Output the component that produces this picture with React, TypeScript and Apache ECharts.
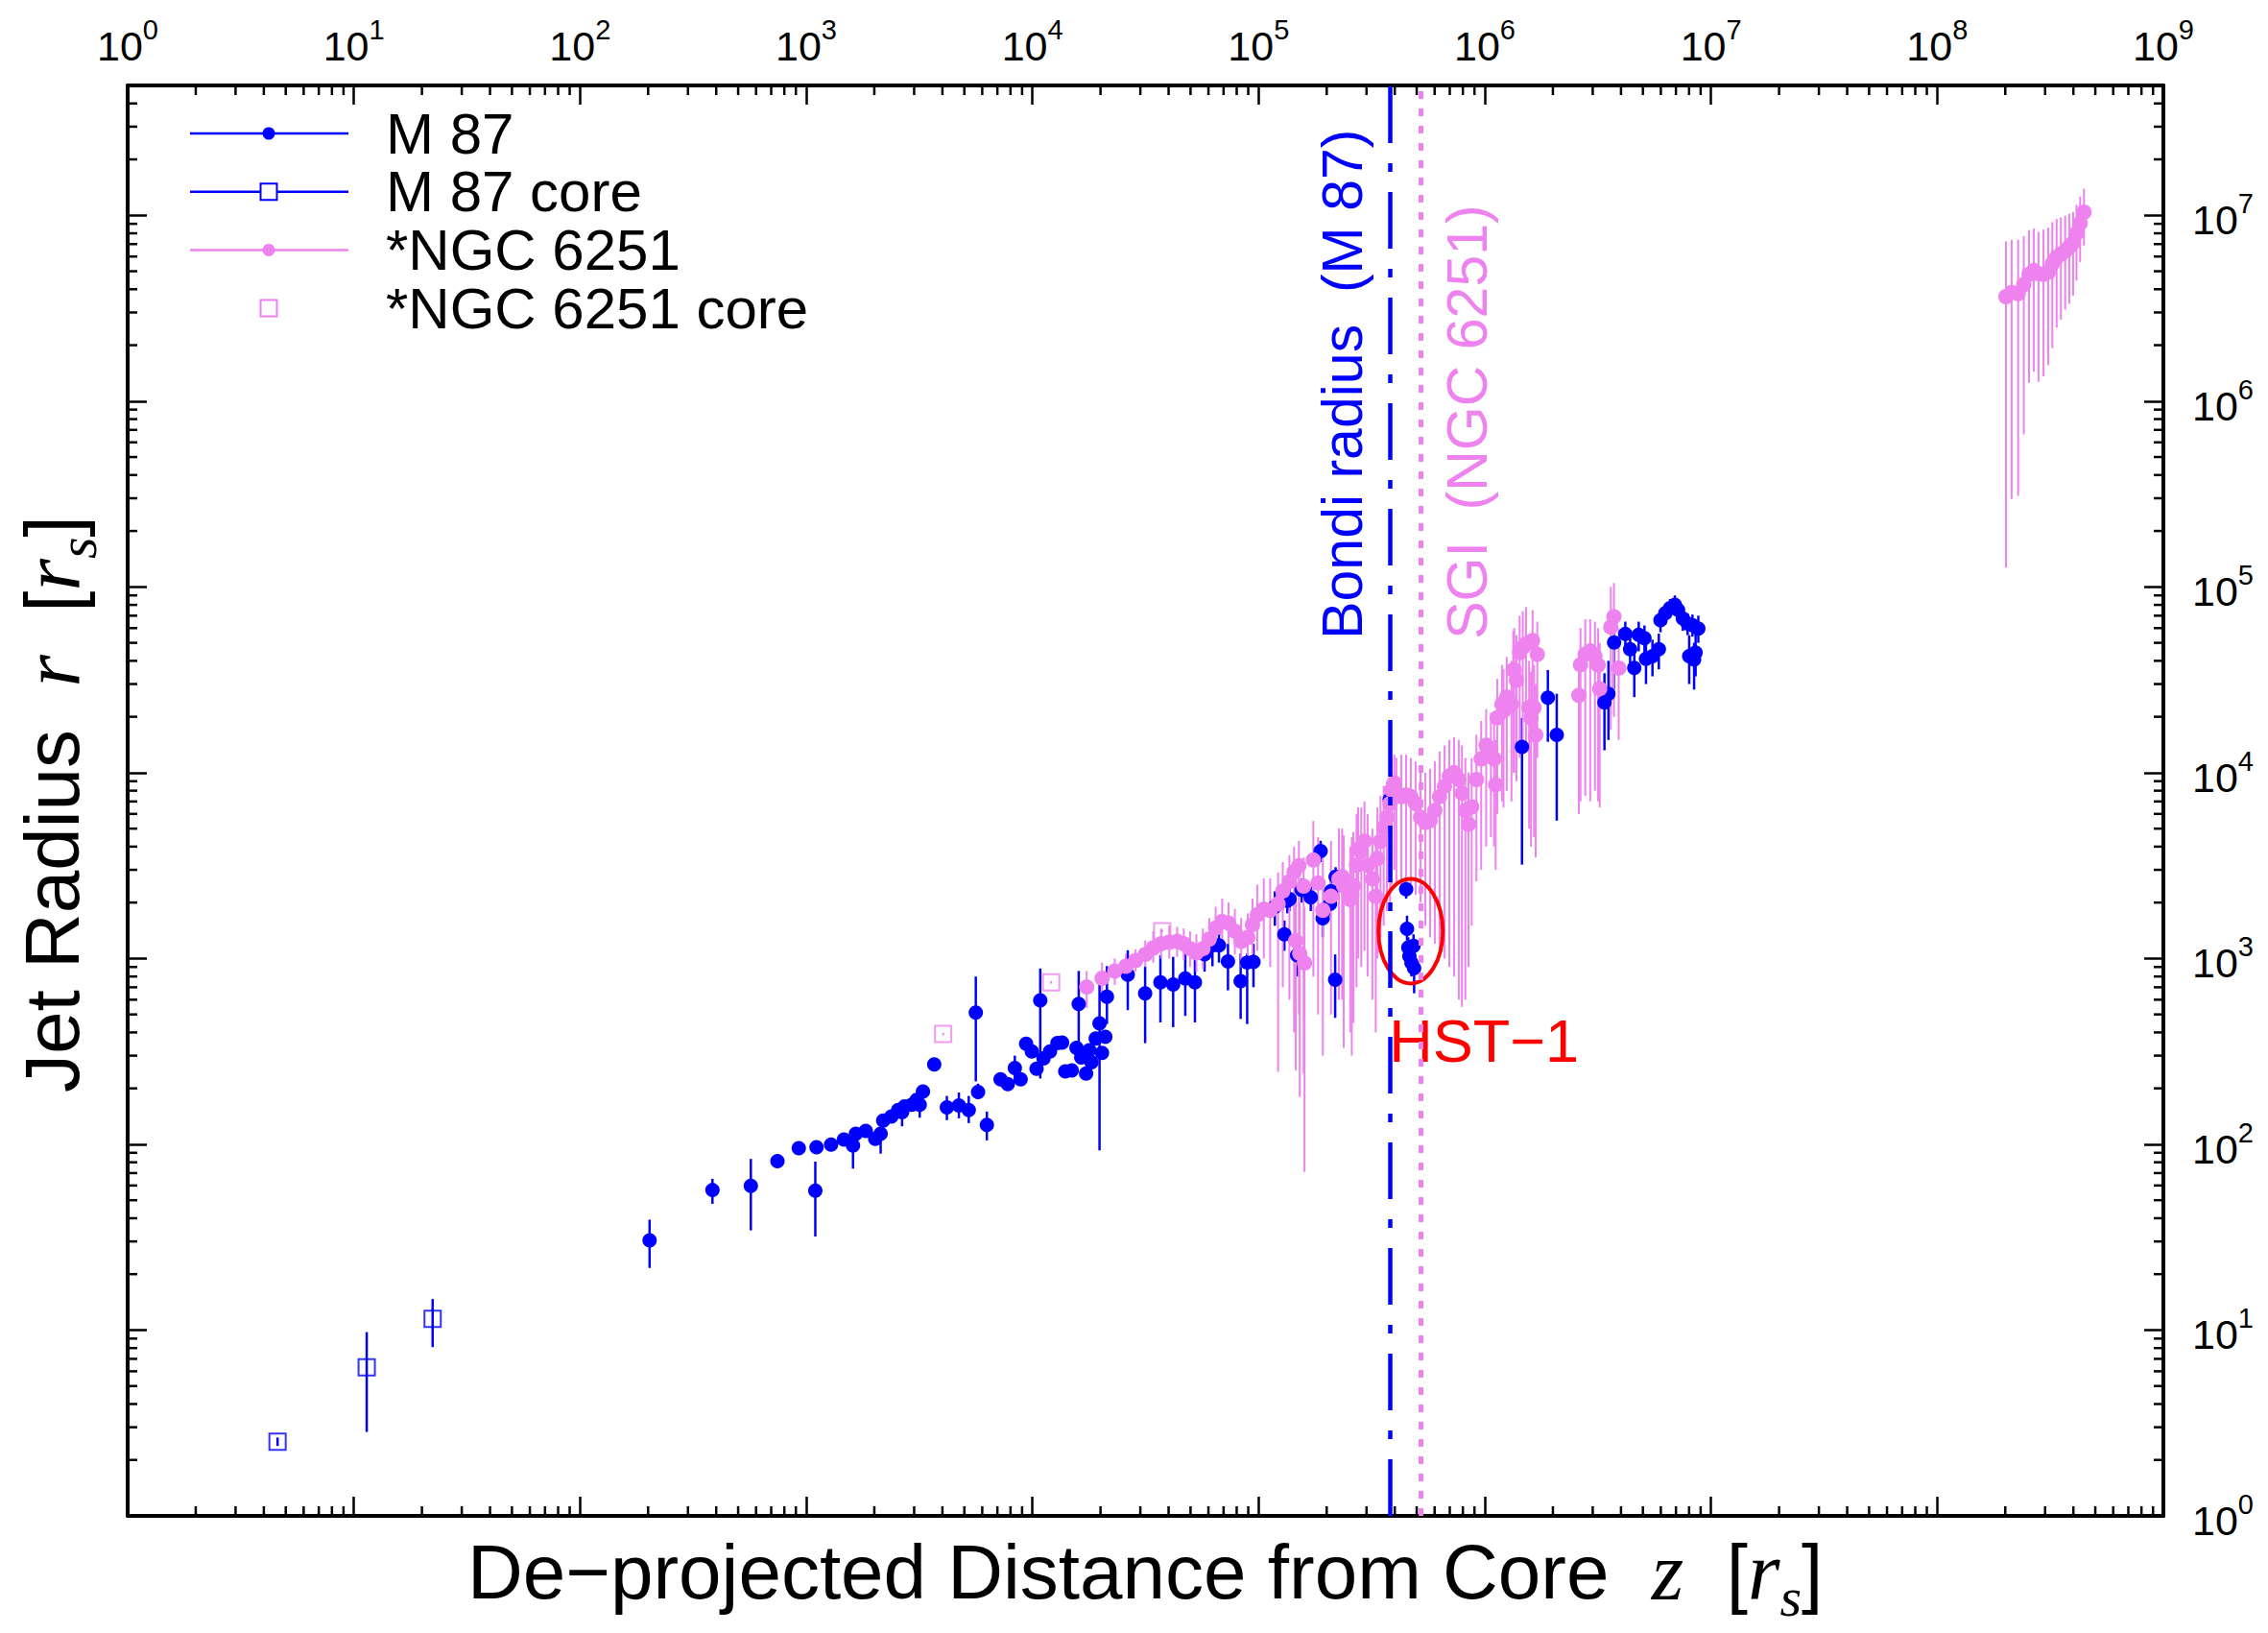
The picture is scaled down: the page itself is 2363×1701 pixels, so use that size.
import React, { useEffect, useRef } from 'react';
import * as echarts from 'echarts';

const SANS = '"Liberation Sans", Arial, Helvetica, sans-serif';
const SERIF = '"Liberation Serif", "Times New Roman", serif';
const BLUE = '#0000ff';
const VIOLET = '#ee82ee';
const RED = '#ff0000';

// Axis ranges
const xMin = 1;
const xMax = 1e9;
const yMin = 1;
const yMax = 5e7;

// M 87 jet: [z, r, rLow, rHigh]
const m87Jet: number[][] = [
  [203, 30.4, 21.6, 39.3], [385, 56.7, 47.8, 65.2], [569, 59.7, 34.4, 83.4], [746, 81.1, 76, 87],
  [927, 95.3, 90, 101], [1097, 56.3, 31.9, 80.7], [1110, 96.5, 91, 102], [1288, 99.6, 94, 106],
  [1468, 106, 100, 112], [1610, 98.5, 74, 104], [1657, 114, 108, 120], [1833, 118, 112, 124],
  [2018, 107, 100, 116], [2133, 114, 89, 120], [2190, 134, 128, 140], [2380, 141, 134, 148],
  [2550, 153, 145, 160], [2653, 149, 125, 173], [2722, 160, 152, 168], [2928, 163, 155, 171],
  [3076, 173, 164, 182], [3175, 163, 139, 170], [3281, 192, 182, 202], [3680, 269, 256, 284],
  [4186, 158, 135, 182], [4730, 162, 138, 190], [5230, 153, 130, 182], [5620, 511, 218, 800],
  [5750, 191, 175, 212], [6290, 127, 105, 150], [7230, 224, 205, 240], [7780, 211, 195, 225],
  [8360, 257, 215, 300], [8870, 224, 210, 240], [9380, 347, 330, 365], [9940, 316, 300, 330],
  [10430, 255, 240, 270], [10830, 596, 226, 883], [11200, 290, 270, 310], [11960, 316, 300, 335],
  [12900, 351, 335, 370], [13530, 353, 335, 370], [13970, 247, 232, 262], [14920, 250, 235, 265],
  [15660, 330, 310, 350], [16020, 570, 324, 857], [16440, 293, 275, 310], [17270, 240, 222, 258],
  [17840, 321, 300, 340], [18240, 276, 258, 295], [19050, 371, 350, 390], [19800, 448, 92.7, 745],
  [20300, 310, 290, 330], [21000, 379, 360, 400], [21350, 623, 444, 910], [26400, 818, 527, 1107],
  [31500, 648, 350, 908], [36800, 745, 453, 1042], [41900, 724, 427, 1020], [47400, 781, 491, 1064],
  [52300, 745, 453, 991], [57700, 1055, 850, 1250], [62500, 1175, 908, 1403], [66800, 1175, 950, 1400],
  [73200, 964, 674, 1199], [83300, 756, 473, 1064], [89000, 951, 444, 1064], [94900, 959, 700, 1200],
  [118000, 1900, 1500, 2300], [130000, 1349, 1100, 1600], [134000, 2046, 1750, 2400], [137000, 2089, 1800, 2400],
  [148000, 1042, 800, 1300], [155000, 2340, 2000, 2700], [170000, 2130, 1800, 2500], [188000, 3784, 3300, 4300],
  [192000, 1644, 1300, 2000], [207000, 1966, 1700, 2300], [209000, 2306, 2000, 2600], [218000, 768, 479, 1052],
  [219000, 2754, 2400, 3100], [380000, 7170, 6500, 7900],
  [449000, 2360, 2100, 2600], [453000, 1445, 1250, 1700], [459000, 1146, 1000, 1300], [464000, 1030, 900, 1200],
  [474000, 946, 800, 1100], [484000, 1169, 1000, 1350], [487000, 887, 650, 1000],
  [1.46e6, 13760, 3200, 19700], [1.9e6, 25300, 14660, 35700], [2.08e6, 15960, 5520, 26600],
  [3.38e6, 23900, 13200, 34300], [3.52e6, 26600, 15000, 40000], [3.73e6, 50200, 28000, 60000],
  [4.18e6, 55800, 45000, 65000], [4.39e6, 46200, 38000, 55000], [4.58e6, 36600, 25500, 48100],
  [4.79e6, 55200, 45000, 65000], [5.08e6, 52900, 44000, 62000], [5.16e6, 41000, 30000, 50000],
  [5.51e6, 42400, 33000, 52000], [5.88e6, 46200, 36000, 56000], [5.98e6, 66300, 57000, 75000],
  [6.28e6, 72100, 63000, 80000], [6.59e6, 76900, 68000, 86000], [6.92e6, 80200, 71000, 90000],
  [7.15e6, 75200, 66000, 84000], [7.51e6, 67600, 58000, 77000], [7.88e6, 63500, 55000, 72000],
  [8.01e6, 42400, 30000, 55000], [8.28e6, 62200, 54000, 71000], [8.42e6, 40700, 28000, 50000],
  [8.55e6, 44300, 33000, 56000], [8.79e6, 59600, 50000, 70000],
];

// M 87 core: [z, r, rLow, rHigh]
const m87Core: number[][] = [
  [4.6, 2.51, 2.38, 2.64],
  [11.4, 6.3, 2.83, 9.75],
  [22.3, 11.5, 8.1, 14.7],
];

// NGC 6251 jet: [z, r, rLow, rHigh]
const ngcJet: number[][] = [
  [17380, 702, 542, 855], [20320, 782, 640, 950], [23120, 855, 720, 1000], [25880, 908, 780, 1060],
  [28580, 975, 850, 1120], [31550, 1052, 900, 1250], [34200, 1138, 950, 1400], [37070, 1200, 1000, 1450],
  [40270, 1222, 1000, 1500], [43650, 1236, 1020, 1480], [46670, 1200, 980, 1450], [49770, 1130, 900, 1400],
  [53090, 1072, 850, 1350], [56750, 1130, 880, 1450], [60530, 1271, 1000, 1650], [64570, 1459, 1150, 1900],
  [69020, 1581, 1250, 2100], [73620, 1549, 1200, 2000], [78520, 1403, 1050, 1850], [83750, 1236, 900, 1650],
  [89540, 1297, 950, 1750], [93970, 1521, 1050, 2100], [98630, 1714, 1100, 2500], [105400, 1841, 1000, 2700],
  [112500, 1816, 900, 2700], [121900, 1968, 245, 2900], [127900, 2307, 700, 3300], [136800, 2594, 600, 3600],
  [143500, 2924, 400, 4000], [145900, 1247, 250, 2200], [150700, 3162, 500, 4300], [152000, 1064, 180, 2000],
  [158100, 2449, 240, 3500], [159500, 946, 71, 1900], [174600, 3388, 800, 5500], [183200, 2547, 500, 4500],
  [192300, 1816, 300, 3500], [208900, 2163, 500, 4300], [226500, 2679, 600, 5000], [233900, 2754, 600, 5000],
  [237700, 2460, 330, 4600], [254100, 2075, 400, 4000], [258200, 2213, 300, 4500], [262400, 2460, 450, 4800],
  [271000, 3177, 700, 6000], [275400, 3864, 1000, 6500], [284400, 3767, 900, 6500], [293800, 4276, 1100, 7000],
  [303400, 3177, 800, 6000], [318400, 2679, 600, 5000], [329600, 2163, 400, 4500], [335000, 3451, 1000, 6500],
  [345900, 4276, 1300, 7500], [357300, 5070, 1500, 8500], [369000, 5754, 1800, 9000], [381100, 6823, 2000, 10500],
  [387300, 8091, 2500, 12000], [398100, 8810, 3000, 12500], [406400, 7745, 2500, 12000], [427600, 7430, 2200, 12500],
  [448700, 7586, 2500, 12500], [470900, 7430, 2500, 12000], [494300, 6823, 2200, 11500], [520000, 5754, 2000, 10500],
  [545800, 5395, 1500, 10000], [572800, 5521, 1300, 10500], [601200, 6266, 1200, 11500], [631000, 7430, 1100, 13000],
  [663700, 8433, 1000, 14000], [696600, 9572, 900, 15000], [731100, 10000, 800, 15500], [767400, 9183, 600, 15000],
  [792500, 7745, 550, 14000], [820300, 6266, 600, 12000], [847200, 5284, 900, 10000], [874900, 6546, 1500, 12000],
  [918300, 9183, 2600, 16000], [963900, 11860, 3000, 19000], [1.014e6, 14060, 4000, 22000], [1.064e6, 13460, 4500, 21000],
  [1.099e6, 11860, 4000, 19000], [1.117e6, 8610, 3000, 15000], [1.135e6, 19720, 6000, 32000], [1.191e6, 23390, 7000, 38000],
  [1.21e6, 21500, 6500, 36000], [1.25e6, 25470, 8000, 42000], [1.312e6, 23390, 7000, 40000], [1.336e6, 35700, 10000, 58000],
  [1.35e6, 35730, 10000, 60000], [1.38e6, 31480, 9000, 55000], [1.426e6, 44260, 12000, 70000], [1.472e6, 47200, 13000, 74000],
  [1.521e6, 49200, 14000, 78000], [1.57e6, 22440, 5000, 40000], [1.6e6, 19720, 4000, 35000], [1.626e6, 51400, 15000, 75000],
  [1.65e6, 22400, 4500, 38000], [1.679e6, 15960, 3500, 30000], [1.706e6, 43350, 12000, 65000],
  [2.606e6, 26060, 6000, 45000], [2.649e6, 38110, 7000, 60000], [2.78e6, 43350, 7500, 67000], [2.924e6, 45190, 7000, 67000],
  [3.069e6, 42360, 8000, 65000], [3.17e6, 37930, 7000, 60000], [3.221e6, 28310, 6500, 50000], [3.606e6, 60810, 17000, 100000],
  [3.724e6, 69180, 20000, 105000], [3.908e6, 36560, 15000, 60000],
  [2.014e8, 3.648e6, 1.27e5, 7.23e6], [2.133e8, 3.837e6, 2.97e5, 7.38e6], [2.28e8, 3.793e6, 3.09e5, 7.38e6],
  [2.415e8, 4.236e6, 6.62e5, 7.74e6], [2.547e8, 4.808e6, 1.253e6, 8.32e6], [2.673e8, 5.047e6, 1.44e6, 8.48e6],
  [2.805e8, 4.853e6, 1.27e6, 8.15e6], [2.951e8, 4.808e6, 1.36e6, 8.38e6], [3.097e8, 4.932e6, 1.56e6, 8.59e6],
  [3.228e8, 5.483e6, 1.93e6, 9.18e6], [3.373e8, 5.943e6, 2.48e6, 9.55e6], [3.524e8, 6.18e6, 2.74e6, 9.75e6],
  [3.681e8, 6.43e6, 3.11e6, 9.94e6], [3.837e8, 6.76e6, 3.34e6, 1.02e7], [3.99e8, 7.14e6, 3.69e6, 1.04e7],
  [4.13e8, 8.0e6, 4.45e6, 1.14e7], [4.285e8, 9.08e6, 5.6e6, 1.26e7], [4.457e8, 1.04e7, 6.87e6, 1.39e7],
];

// NGC 6251 core: [z, r, rLow, rHigh]
const ngcCore: number[][] = [
  [4030, 392, 386, 398],
  [12100, 745, 733, 757],
  [37500, 1403, 1380, 1426],
];

// Reference radii (vertical lines)
const bondiRadiusM87 = 3.81e5;
const sgiNGC6251 = 5.23e5;
// HST-1 annotation anchors (data coordinates)
const hst1Center = [4.7e5, 1404];
const hst1LabelAnchor = [3.77e5, 361];
const verticalLabelR = 5.23e4;

const legendItems = [
  { name: 'M 87', color: BLUE, line: true, symbol: 'circle' },
  { name: 'M 87 core', color: BLUE, line: true, symbol: 'rect' },
  { name: '*NGC 6251', color: VIOLET, line: true, symbol: 'circle' },
  { name: '*NGC 6251 core', color: VIOLET, line: false, symbol: 'rect' },
];

function powLabel(v: number): string {
  const e = Math.log10(v);
  const n = Math.round(e);
  if (Math.abs(e - n) > 1e-6) return '';
  return `{b|10}{s|${n}}`;
}

const tickRich = {
  b: { fontSize: 43, fontFamily: SANS, color: '#000', verticalAlign: 'bottom' },
  s: { fontSize: 29, fontFamily: SANS, color: '#000', verticalAlign: 'top', padding: [0, 0, 24, 0] },
};

const titleRich = {
  a: { fontSize: 80, fontFamily: SANS, color: '#000' },
  i: { fontSize: 86, fontFamily: SERIF, fontStyle: 'italic', color: '#000' },
  sub: { fontSize: 58, fontFamily: SERIF, fontStyle: 'italic', color: '#000', padding: [52, 0, 0, 0] },
};

function buildMinorTicks(): number[][] {
  const out: number[][] = [];
  for (let d = 0; d < 9; d++) {
    for (let m = 2; m <= 9; m++) {
      const v = m * Math.pow(10, d);
      out.push([v, yMin, 0]);
      out.push([v, yMax, 1]);
    }
  }
  for (let d = 0; d < 8; d++) {
    for (let m = 2; m <= 9; m++) {
      const v = m * Math.pow(10, d);
      if (v >= yMax) continue;
      out.push([xMin, v, 2]);
      out.push([xMax, v, 3]);
    }
  }
  return out;
}

const errorBarRender = (color: string, width: number) => (_params: any, api: any) => {
  const x = api.value(0);
  const p1 = api.coord([x, api.value(1)]);
  const p2 = api.coord([x, api.value(2)]);
  return {
    type: 'line',
    shape: { x1: p1[0], y1: p1[1], x2: p2[0], y2: p2[1] },
    style: { stroke: color, lineWidth: width },
  };
};

function buildOption(): any {
  const axisCommon = {
    type: 'log',
    logBase: 10,
    splitNumber: 10,
    axisLine: { show: true, onZero: false, lineStyle: { color: '#000', width: 4 } },
    axisTick: { show: true, inside: true, length: 20, lineStyle: { color: '#000', width: 2.5 } },
    splitLine: { show: false },
  };

  const legendEls: any[] = [];
  legendItems.forEach((it, i) => {
    const y = 139 + i * 60.7;
    if (it.line) {
      legendEls.push({ type: 'line', shape: { x1: 198, y1: y, x2: 363, y2: y }, style: { stroke: it.color, lineWidth: 2.5 } });
    }
    if (it.symbol === 'circle') {
      legendEls.push({ type: 'circle', shape: { cx: 280, cy: y, r: 6.5 }, style: { fill: it.color } });
    } else {
      legendEls.push({ type: 'rect', shape: { x: 271.5, y: y - 8.5, width: 17, height: 17 }, style: { fill: '#fff', stroke: it.color, lineWidth: 2 } });
    }
    legendEls.push({
      type: 'text', x: 402, y,
      style: { text: it.name, fill: '#000', fontSize: 60, fontFamily: SANS, align: 'left', verticalAlign: 'middle', textAlign: 'left', textVerticalAlign: 'middle' },
    });
  });

  const xTitle = '{a|De\u2212projected Distance from Core}{a|  }{i|z}{a|  }{a|[}{i|r}{sub|s}{a|]}';
  const yTitle = '{a|Jet Radius}{a|  }{i|r}{a|  }{a|[}{i|r}{sub|s}{a|]}';

  return {
    animation: false,
    backgroundColor: '#fff',
    grid: { left: 133, right: 109, top: 89, bottom: 122, containLabel: false },
    xAxis: [
      { ...axisCommon, min: xMin, max: xMax, position: 'bottom', axisLabel: { show: false } },
      { ...axisCommon, min: xMin, max: xMax, position: 'top', axisLabel: { show: true, color: '#000', margin: 20, formatter: powLabel, rich: tickRich } },
    ],
    yAxis: [
      { ...axisCommon, min: yMin, max: yMax, position: 'left', axisLabel: { show: false } },
      { ...axisCommon, min: yMin, max: yMax, position: 'right', axisLabel: { show: true, color: '#000', margin: 30, formatter: powLabel, rich: tickRich } },
    ],
    graphic: {
      elements: [
        ...legendEls,
        {
          type: 'text', x: 487, y: 1637,
          style: { text: xTitle, rich: titleRich, fill: '#000', align: 'left', verticalAlign: 'middle', textAlign: 'left', textVerticalAlign: 'middle' },
        },
        {
          type: 'text', x: 54, y: 1138, rotation: Math.PI / 2,
          style: { text: yTitle, rich: titleRich, fill: '#000', align: 'left', verticalAlign: 'middle', textAlign: 'left', textVerticalAlign: 'middle' },
        },
      ],
    },
    series: [
      {
        type: 'custom', name: 'M 87 errors', silent: true, xAxisIndex: 0, yAxisIndex: 0,
        encode: { x: 0, y: [1, 2] },
        data: m87Jet.map((d) => [d[0], d[2], d[3]]),
        renderItem: errorBarRender(BLUE, 2.5),
        z: 2,
      },
      {
        type: 'scatter', name: 'M 87', silent: true, xAxisIndex: 0, yAxisIndex: 0,
        symbol: 'circle', symbolSize: 15,
        itemStyle: { color: BLUE, opacity: 1 },
        data: m87Jet.map((d) => [d[0], d[1]]),
        markLine: {
          silent: true, symbol: ['none', 'none'], label: { show: false },
          lineStyle: { color: BLUE, width: 4.5, type: [59, 21, 9, 21] },
          data: [{ xAxis: bondiRadiusM87 }],
        },
        z: 2,
      },
      {
        type: 'custom', name: 'M 87 core errors', silent: true, xAxisIndex: 0, yAxisIndex: 0,
        encode: { x: 0, y: [1, 2] },
        data: m87Core.map((d) => [d[0], d[2], d[3]]),
        renderItem: errorBarRender(BLUE, 2.5),
        z: 2,
      },
      {
        type: 'scatter', name: 'M 87 core', silent: true, xAxisIndex: 0, yAxisIndex: 0,
        symbol: 'rect', symbolSize: 17,
        itemStyle: { color: 'rgba(0,0,0,0)', borderColor: BLUE, borderWidth: 2 },
        data: m87Core.map((d) => [d[0], d[1]]),
        z: 2,
      },
      {
        type: 'scatter', name: 'SGI line', silent: true, xAxisIndex: 0, yAxisIndex: 0,
        data: [],
        markLine: {
          silent: true, symbol: ['none', 'none'], label: { show: false },
          lineStyle: { color: VIOLET, width: 5, type: [8, 10] },
          data: [{ xAxis: sgiNGC6251 }],
        },
        z: 2,
      },
      {
        type: 'custom', name: '*NGC 6251 errors', silent: true, xAxisIndex: 0, yAxisIndex: 0,
        encode: { x: 0, y: [1, 2] },
        data: ngcJet.map((d) => [d[0], d[2], d[3]]),
        renderItem: errorBarRender(VIOLET, 2),
        z: 2,
      },
      {
        type: 'scatter', name: '*NGC 6251', silent: true, xAxisIndex: 0, yAxisIndex: 0,
        symbol: 'circle', symbolSize: 16,
        itemStyle: { color: VIOLET, opacity: 1 },
        data: ngcJet.map((d) => [d[0], d[1]]),
        z: 2,
      },
      {
        type: 'custom', name: '*NGC 6251 core errors', silent: true, xAxisIndex: 0, yAxisIndex: 0,
        encode: { x: 0, y: [1, 2] },
        data: ngcCore.map((d) => [d[0], d[2], d[3]]),
        renderItem: errorBarRender(VIOLET, 2),
        z: 2,
      },
      {
        type: 'scatter', name: '*NGC 6251 core', silent: true, xAxisIndex: 0, yAxisIndex: 0,
        symbol: 'rect', symbolSize: 17,
        itemStyle: { color: 'rgba(0,0,0,0)', borderColor: VIOLET, borderWidth: 2 },
        data: ngcCore.map((d) => [d[0], d[1]]),
        z: 2,
      },
      {
        type: 'custom', name: 'annotations', silent: true, xAxisIndex: 0, yAxisIndex: 0,
        encode: { x: 0, y: 1 },
        data: [[hst1Center[0], hst1Center[1]]],
        renderItem: (_params: any, api: any) => {
          const c = api.coord(hst1Center);
          const rx = 33.5;
          const ry = 54.5;
          const lab = api.coord(hst1LabelAnchor);
          const b = api.coord([bondiRadiusM87, verticalLabelR]);
          const s = api.coord([sgiNGC6251, verticalLabelR]);
          const d = `M ${c[0] - rx} ${c[1]} A ${rx} ${ry} 0 1 0 ${c[0] + rx} ${c[1]} A ${rx} ${ry} 0 1 0 ${c[0] - rx} ${c[1]} Z`;
          return {
            type: 'group',
            children: [
              { type: 'path', shape: { pathData: d }, style: { fill: 'none', stroke: RED, lineWidth: 4 } },
              {
                type: 'text', x: lab[0], y: lab[1],
                style: { text: 'HST\u22121', fill: RED, fontSize: 63, fontFamily: SANS, align: 'left', verticalAlign: 'middle' },
              },
              {
                type: 'text', x: b[0] - 49, y: b[1], rotation: Math.PI / 2,
                style: { text: 'Bondi radius  (M 87)', fill: BLUE, fontSize: 59, fontFamily: SANS, align: 'left', verticalAlign: 'middle' },
              },
              {
                type: 'text', x: s[0] + 48, y: s[1], rotation: Math.PI / 2,
                style: { text: 'SGI  (NGC 6251)', fill: VIOLET, fontSize: 59, fontFamily: SANS, align: 'left', verticalAlign: 'middle' },
              },
            ],
          };
        },
        z: 3,
      },
      {
        type: 'custom', name: 'minor ticks', silent: true, xAxisIndex: 0, yAxisIndex: 0,
        encode: { x: 0, y: 1 },
        data: buildMinorTicks(),
        renderItem: (_params: any, api: any) => {
          const p = api.coord([api.value(0), api.value(1)]);
          const k = api.value(2);
          const L = 10;
          let x2 = p[0];
          let y2 = p[1];
          if (k === 0) y2 = p[1] - L;
          else if (k === 1) y2 = p[1] + L;
          else if (k === 2) x2 = p[0] + L;
          else x2 = p[0] - L;
          return { type: 'line', shape: { x1: p[0], y1: p[1], x2, y2 }, style: { stroke: '#000', lineWidth: 2.5 } };
        },
        z: 4,
      },
    ],
  };
}

export default function App() {
  const ref = useRef<HTMLDivElement>(null);
  useEffect(() => {
    if (!ref.current) return;
    const chart = echarts.init(ref.current, null, { renderer: 'svg' });
    chart.setOption(buildOption());
    return () => {
      chart.dispose();
    };
  }, []);
  return (
    <div
      ref={ref}
      style={{ position: 'absolute', left: 0, top: 0, width: 2363, height: 1701, background: '#fff' }}
    />
  );
}
